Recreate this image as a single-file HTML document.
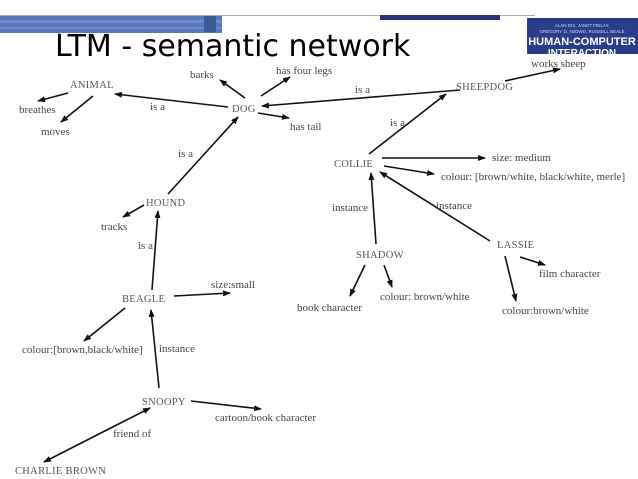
<!DOCTYPE html>
<html><head><meta charset="utf-8"><style>
html,body{margin:0;padding:0;background:#fff;}
svg{display:block;}
.t{font-family:"Liberation Serif",serif;font-size:11px;fill:#444;}
.n{font-family:"Liberation Serif",serif;font-size:10.5px;fill:#555;letter-spacing:0.3px;}
</style></head><body>
<svg width="638" height="479" viewBox="0 0 638 479" xmlns="http://www.w3.org/2000/svg">
<defs>
<marker id="a" markerWidth="8" markerHeight="6" refX="7" refY="3" orient="auto" markerUnits="userSpaceOnUse">
<path d="M0,0 L8,3 L0,6 z" fill="#111"/></marker>
<marker id="b" markerWidth="8" markerHeight="6" refX="1" refY="3" orient="auto" markerUnits="userSpaceOnUse">
<path d="M8,0 L0,3 L8,6 z" fill="#111"/></marker>
</defs>
<line x1="0" y1="15.5" x2="535" y2="15.5" stroke="#aaa" stroke-width="1"/>
<rect x="0" y="16" width="222" height="17" fill="#5a78b8"/>
<rect x="0" y="20" width="222" height="3" fill="#7f98cc" opacity="0.6"/>
<rect x="0" y="27" width="222" height="2" fill="#7f98cc" opacity="0.6"/>
<rect x="204" y="16" width="12" height="16" fill="#3a5a9a"/>
<rect x="380" y="15" width="120" height="5" fill="#2a3270"/>
<rect x="527" y="18" width="111" height="36" fill="#2a3c8a"/>
<text x="582" y="27" font-family="Liberation Sans,sans-serif" font-size="4.5" fill="#dde" text-anchor="middle">ALAN DIX, JANET FINLAY,</text>
<text x="582" y="33" font-family="Liberation Sans,sans-serif" font-size="4.5" fill="#dde" text-anchor="middle">GREGORY D. ABOWD, RUSSELL BEALE</text>
<text x="582" y="45" font-family="Liberation Sans,sans-serif" font-size="11" font-weight="bold" fill="#fff" text-anchor="middle">HUMAN-COMPUTER</text>
<text x="582" y="56" font-family="Liberation Sans,sans-serif" font-size="10" font-weight="bold" fill="#fff" text-anchor="middle">INTERACTION</text>
<rect x="527" y="54" width="111" height="6" fill="#fff"/>
<text x="55" y="56" font-family="'Comic Sans MS','DejaVu Sans',sans-serif" font-size="30" fill="#000">LTM - semantic network</text>

<g stroke="#111" stroke-width="1.6" fill="none" marker-end="url(#a)">
<line x1="68" y1="93" x2="38" y2="101"/>
<line x1="93" y1="96" x2="61" y2="122"/>
<line x1="228" y1="107" x2="115" y2="94"/>
<line x1="245" y1="98" x2="220" y2="80"/>
<line x1="261" y1="96" x2="290" y2="77"/>
<line x1="460" y1="90" x2="262" y2="106"/>
<line x1="258" y1="113" x2="289" y2="118"/>
<line x1="505" y1="81" x2="560" y2="69"/>
<line x1="369" y1="154" x2="446" y2="94"/>
<line x1="382" y1="158" x2="485" y2="158"/>
<line x1="384" y1="166" x2="434" y2="174"/>
<line x1="376" y1="244" x2="371" y2="173"/>
<line x1="490" y1="241" x2="380" y2="172"/>
<line x1="168" y1="194" x2="238" y2="117"/>
<line x1="144" y1="205" x2="123" y2="217"/>
<line x1="152" y1="290" x2="158" y2="211"/>
<line x1="174" y1="296" x2="230" y2="293"/>
<line x1="125" y1="308" x2="84" y2="341"/>
<line x1="159" y1="388" x2="151" y2="310"/>
<line x1="191" y1="401" x2="261" y2="409"/>
<line x1="365" y1="265" x2="350" y2="296"/>
<line x1="384" y1="265" x2="392" y2="287"/>
<line x1="520" y1="257" x2="545" y2="265"/>
<line x1="505" y1="256" x2="516" y2="301"/>
<line x1="150" y1="408" x2="44" y2="462" marker-start="url(#b)"/>
</g>

<g class="n">
<text x="70" y="88">ANIMAL</text>
<text x="232" y="112">DOG</text>
<text x="456" y="90">SHEEPDOG</text>
<text x="334" y="167">COLLIE</text>
<text x="146" y="206">HOUND</text>
<text x="356" y="258">SHADOW</text>
<text x="497" y="248">LASSIE</text>
<text x="122" y="302">BEAGLE</text>
<text x="142" y="405">SNOOPY</text>
<text x="15" y="474">CHARLIE BROWN</text>
</g>
<g class="t">
<text x="19" y="113">breathes</text>
<text x="41" y="135">moves</text>
<text x="190" y="78">barks</text>
<text x="276" y="74">has four legs</text>
<text x="290" y="130">has tail</text>
<text x="150" y="110">is a</text>
<text x="355" y="93">is a</text>
<text x="390" y="126">is a</text>
<text x="178" y="157">is a</text>
<text x="531" y="67">works sheep</text>
<text x="492" y="161">size: medium</text>
<text x="441" y="180">colour: [brown/white, black/white, merle]</text>
<text x="332" y="211">instance</text>
<text x="436" y="209">instance</text>
<text x="101" y="230">tracks</text>
<text x="138" y="249">is a</text>
<text x="539" y="277">film character</text>
<text x="297" y="311">book character</text>
<text x="380" y="300">colour: brown/white</text>
<text x="502" y="314">colour:brown/white</text>
<text x="211" y="288">size:small</text>
<text x="22" y="353">colour:[brown,black/white]</text>
<text x="159" y="352">instance</text>
<text x="215" y="421">cartoon/book character</text>
<text x="113" y="437">friend of</text>
</g>
</svg>
</body></html>
